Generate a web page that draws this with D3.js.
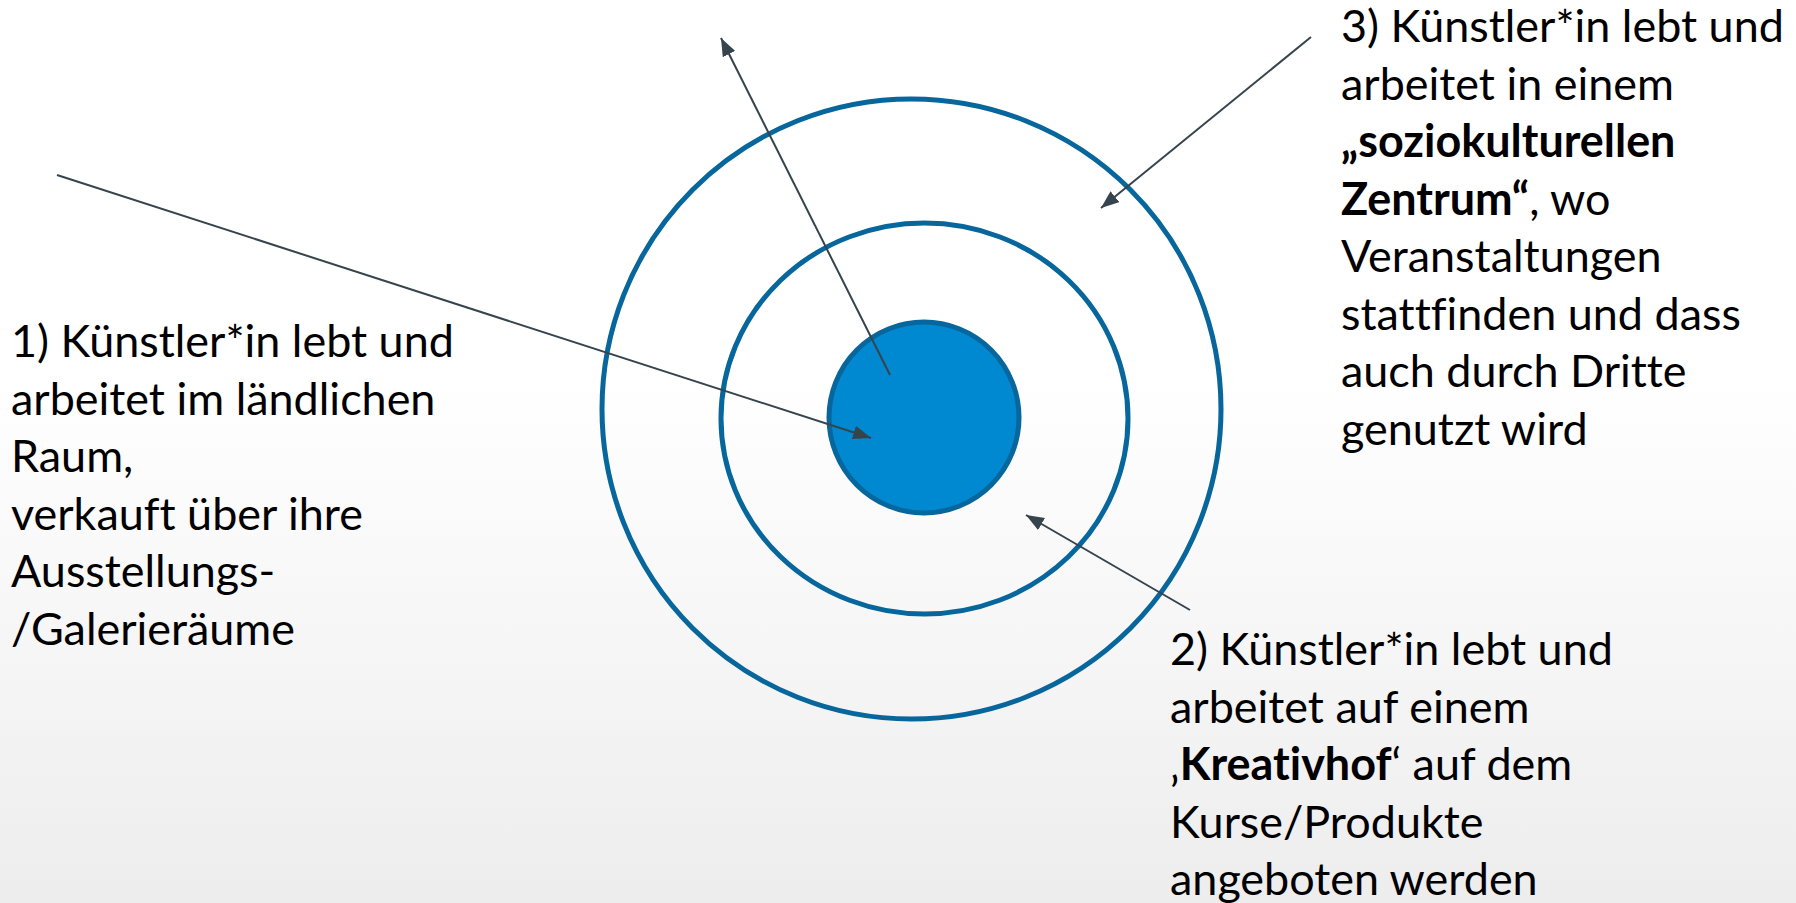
<!DOCTYPE html>
<html>
<head>
<meta charset="utf-8">
<script src="https://cdn.jsdelivr.net/npm/d3@7"></script>
<style>
  html, body { margin: 0; padding: 0; overflow: hidden; }
  svg { display: block; }
  text { font-variant-ligatures: none; font-feature-settings: "liga" 0, "clig" 0; }
</style>
</head>
<body>
<svg id="chart" width="1796" height="903"></svg>
<script>
// ring values, in diagram units (reference is 1796 x 903 units)
var ringNames = ["outer", "middle", "inner"];
var ringCx = [911.5, 924.5, 924];
var ringCy = [409, 418.5, 417.5];
var ringRx = [309.5, 203.5, 95];
var ringRy = [310, 195.5, 95.5];

// arrows: start and tip
var arrowFromX = [57, 890, 1311, 1190];
var arrowFromY = [175, 375, 37, 610];
var arrowToX = [871, 721, 1101, 1026];
var arrowToY = [438, 38, 208, 515];

// text blocks, each line is a list of [text, bold] pieces
var label1 = [
  [["1) Künstler*in lebt und", false]],
  [["arbeitet im ländlichen", false]],
  [["Raum,", false]],
  [["verkauft über ihre", false]],
  [["Ausstellungs-", false]],
  [["/Galerieräume", false]]
];
var label2 = [
  [["2) Künstler*in lebt und", false]],
  [["arbeitet auf einem", false]],
  [["‚", false], ["Kreativhof", true], ["‘ auf dem", false]],
  [["Kurse/Produkte", false]],
  [["angeboten werden", false]]
];
var label3 = [
  [["3) Künstler*in lebt und", false]],
  [["arbeitet in einem", false]],
  [["„soziokulturellen", true]],
  [["Zentrum“", true], [", wo", false]],
  [["Veranstaltungen", false]],
  [["stattfinden und dass", false]],
  [["auch durch Dritte", false]],
  [["genutzt wird", false]]
];
var labelBlocks = [label1, label2, label3];
var labelX = [11, 1170, 1341];
var labelY = [357, 665, 42];

var svg    = d3.select("svg"),
    width  = +svg.attr("width"),
    height = +svg.attr("height");

var x = d3.scaleLinear().domain([0, 1796]).range([0, width]);
var y = d3.scaleLinear().domain([0, 903]).range([0, height]);

// background: white fading to light grey
var defs = svg.append("defs");
var grad = defs.append("linearGradient")
    .attr("id", "bg")
    .attr("x1", 0).attr("y1", 0).attr("x2", 0).attr("y2", 1);
grad.append("stop").attr("offset", "0").attr("stop-color", "#ffffff");
grad.append("stop").attr("offset", "0.42").attr("stop-color", "#ffffff");
grad.append("stop").attr("offset", "1").attr("stop-color", "#ededed");

svg.append("rect")
    .attr("width", width)
    .attr("height", height)
    .attr("fill", "url(#bg)");

defs.append("marker")
    .attr("id", "head")
    .attr("markerUnits", "userSpaceOnUse")
    .attr("viewBox", "0 0 18 14")
    .attr("refX", 18)
    .attr("refY", 7)
    .attr("markerWidth", 18)
    .attr("markerHeight", 14)
    .attr("orient", "auto")
  .append("path")
    .attr("d", "M0,0L18,7L0,14Z")
    .attr("fill", "#35444d");

// rings
var rings = ringNames.map(function(n, i) {
  return {name: n, cx: ringCx[i], cy: ringCy[i], rx: ringRx[i], ry: ringRy[i]};
});

svg.append("g").selectAll("ellipse")
  .data(rings)
  .enter().append("ellipse")
    .attr("cx", function(d) { return x(d.cx); })
    .attr("cy", function(d) { return y(d.cy); })
    .attr("rx", function(d) { return x(d.rx) - x(0); })
    .attr("ry", function(d) { return y(d.ry) - y(0); })
    .attr("fill", function(d) { return d.name == "inner" ? "#0089d1" : "none"; })
    .attr("stroke", "#07669b")
    .attr("stroke-width", 5);

// arrows
var arrows = arrowFromX.map(function(v, i) {
  return {x1: v, y1: arrowFromY[i], x2: arrowToX[i], y2: arrowToY[i]};
});

svg.append("g").selectAll("line")
  .data(arrows)
  .enter().append("line")
    .attr("x1", function(d) { return x(d.x1); })
    .attr("y1", function(d) { return y(d.y1); })
    .attr("x2", function(d) { return x(d.x2); })
    .attr("y2", function(d) { return y(d.y2); })
    .attr("stroke", "#35444d")
    .attr("stroke-width", 2)
    .attr("marker-end", "url(#head)");

// texts
var fontFamily = "Lato, 'Noto Sans', sans-serif";
var lineGap = 57.5;

// fit font size so the first line is as wide as in the reference (~443)
var probe = svg.append("text")
    .attr("font-family", fontFamily)
    .attr("font-size", 47)
    .text(label1[0][0][0]);
var fontSize = 47 * 443 / probe.node().getComputedTextLength();
probe.remove();

var texts = svg.append("g")
    .attr("font-family", fontFamily)
    .attr("font-size", fontSize)
    .attr("fill", "#000");

labelBlocks.forEach(function(block, b) {
  var t = texts.append("text");
  block.forEach(function(line, i) {
    line.forEach(function(piece, j) {
      var s = t.append("tspan")
        .attr("font-weight", piece[1] ? "bold" : "normal")
        .text(piece[0]);
      if (j == 0) {
        s.attr("x", x(labelX[b])).attr("y", y(labelY[b] + i * lineGap));
      }
    });
  });
});
</script>
</body>
</html>
